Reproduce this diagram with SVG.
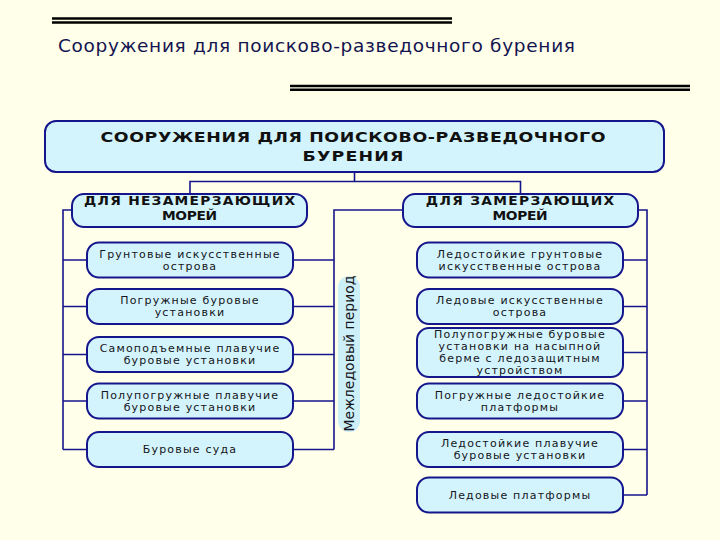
<svg xmlns="http://www.w3.org/2000/svg" width="720" height="540" viewBox="0 0 720 540">
<style>
.bg{fill:#FFFFEA}
.rule{stroke:#000;stroke-width:2.4}
.title{font-family:"DejaVu Sans","Liberation Sans",sans-serif;font-size:18.5px;fill:#141450}
.box{fill:#D3F4FC;stroke:#16168C;stroke-width:2}
.conn{fill:none;stroke:#16168C;stroke-width:1.6}
.hd{font-family:"DejaVu Sans","Liberation Sans",sans-serif;font-weight:bold;fill:#111;text-anchor:middle}
.t{font-family:"DejaVu Sans","Liberation Sans",sans-serif;font-size:11px;letter-spacing:1.2px;fill:#151520;text-anchor:middle}
.pill{fill:#CDEFF7}
.vt{font-family:"DejaVu Sans","Liberation Sans",sans-serif;font-size:14px;fill:#151520;text-anchor:middle;dominant-baseline:central}
</style>
<rect class="bg" x="0" y="0" width="720" height="540"/>
<line class="rule" x1="52" y1="18.5" x2="452" y2="18.5"/>
<line class="rule" x1="52" y1="22.5" x2="452" y2="22.5"/>
<line class="rule" x1="290" y1="86" x2="690" y2="86"/>
<line class="rule" x1="290" y1="89.8" x2="690" y2="89.8"/>
<text class="title" x="58" y="52" textLength="517" lengthAdjust="spacing">Сооружения для поисково-разведочного бурения</text>

<g id="connectors">
<path class="conn" d="M354.5 172 V181.5 M190 194 V181.5 H520.5 V194"/>
<path class="conn" d="M72 210 H63 V449.5 M63 260 H87 M63 306.5 H87 M63 354.5 H87 M63 401 H87 M63 449.5 H87"/>
<path class="conn" d="M403 210 H334 V449.5 M293 260 H334 M293 306.5 H334 M293 354.5 H334 M293 401 H334 M293 449.5 H334"/>
<path class="conn" d="M638 210 H647 V495 M623 260 H647 M623 306.5 H647 M623 352.5 H647 M623 401 H647 M623 449.5 H647 M623 495 H647"/>
</g>

<g id="root">
<rect class="box" x="45" y="121" width="619" height="51" rx="11"/>
<g transform="translate(353 0) scale(1.2 1)">
<text class="hd" x="0" y="142.5" font-size="14.5" textLength="421" lengthAdjust="spacing">СООРУЖЕНИЯ ДЛЯ ПОИСКОВО-РАЗВЕДОЧНОГО</text>
<text class="hd" x="0" y="161.5" font-size="14.5" textLength="84" lengthAdjust="spacing">БУРЕНИЯ</text>
</g>
</g>

<g id="nonfreezing">
<rect class="box" x="72" y="194" width="235" height="33" rx="12"/>
<g transform="translate(189.5 0) scale(1.2 1)">
<text class="hd" x="0" y="205.5" font-size="11.5" textLength="176" lengthAdjust="spacing">ДЛЯ НЕЗАМЕРЗАЮЩИХ</text>
<text class="hd" x="0" y="220" font-size="11.5" textLength="46" lengthAdjust="spacing">МОРЕЙ</text>
</g>
</g>

<g id="freezing">
<rect class="box" x="403" y="194" width="235" height="33" rx="12"/>
<g transform="translate(520 0) scale(1.2 1)">
<text class="hd" x="0" y="205.5" font-size="11.5" textLength="157" lengthAdjust="spacing">ДЛЯ ЗАМЕРЗАЮЩИХ</text>
<text class="hd" x="0" y="220" font-size="11.5" textLength="46" lengthAdjust="spacing">МОРЕЙ</text>
</g>
</g>

<g id="interice">
<rect class="pill" x="338" y="276" width="22" height="156" rx="11"/>
<text class="vt" x="349" y="353.5" transform="rotate(-90 349 353.5)">Межледовый период</text>
</g>

<g id="l1"><rect class="box" x="87" y="242.5" width="206" height="35" rx="12"/>
<text class="t" x="190" y="258">Грунтовые искусственные</text><text class="t" x="190" y="270">острова</text></g>
<g id="l2"><rect class="box" x="87" y="289" width="206" height="35" rx="12"/>
<text class="t" x="190" y="304">Погружные буровые</text><text class="t" x="190" y="316">установки</text></g>
<g id="l3"><rect class="box" x="87" y="337" width="206" height="35" rx="12"/>
<text class="t" x="190" y="352">Самоподъемные плавучие</text><text class="t" x="190" y="364">буровые установки</text></g>
<g id="l4"><rect class="box" x="87" y="383.5" width="206" height="35" rx="12"/>
<text class="t" x="190" y="398.5">Полупогружные плавучие</text><text class="t" x="190" y="410.5">буровые установки</text></g>
<g id="l5"><rect class="box" x="87" y="432" width="206" height="35" rx="12"/>
<text class="t" x="190" y="453">Буровые суда</text></g>

<g id="r1"><rect class="box" x="417" y="242.5" width="206" height="35" rx="12"/>
<text class="t" x="520" y="258">Ледостойкие грунтовые</text><text class="t" x="520" y="270">искусственные острова</text></g>
<g id="r2"><rect class="box" x="417" y="289" width="206" height="35" rx="12"/>
<text class="t" x="520" y="304">Ледовые искусственные</text><text class="t" x="520" y="316">острова</text></g>
<g id="r3"><rect class="box" x="417" y="328" width="206" height="49" rx="12"/>
<text class="t" x="520" y="338">Полупогружные буровые</text><text class="t" x="520" y="350">установки на насыпной</text><text class="t" x="520" y="362">берме с ледозащитным</text><text class="t" x="520" y="374">устройством</text></g>
<g id="r4"><rect class="box" x="417" y="383.5" width="206" height="35" rx="12"/>
<text class="t" x="520" y="398.5">Погружные ледостойкие</text><text class="t" x="520" y="410.5">платформы</text></g>
<g id="r5"><rect class="box" x="417" y="432" width="206" height="35" rx="12"/>
<text class="t" x="520" y="447">Ледостойкие плавучие</text><text class="t" x="520" y="459">буровые установки</text></g>
<g id="r6"><rect class="box" x="417" y="477.5" width="206" height="35" rx="12"/>
<text class="t" x="520" y="498.5">Ледовые платформы</text></g>
</svg>
